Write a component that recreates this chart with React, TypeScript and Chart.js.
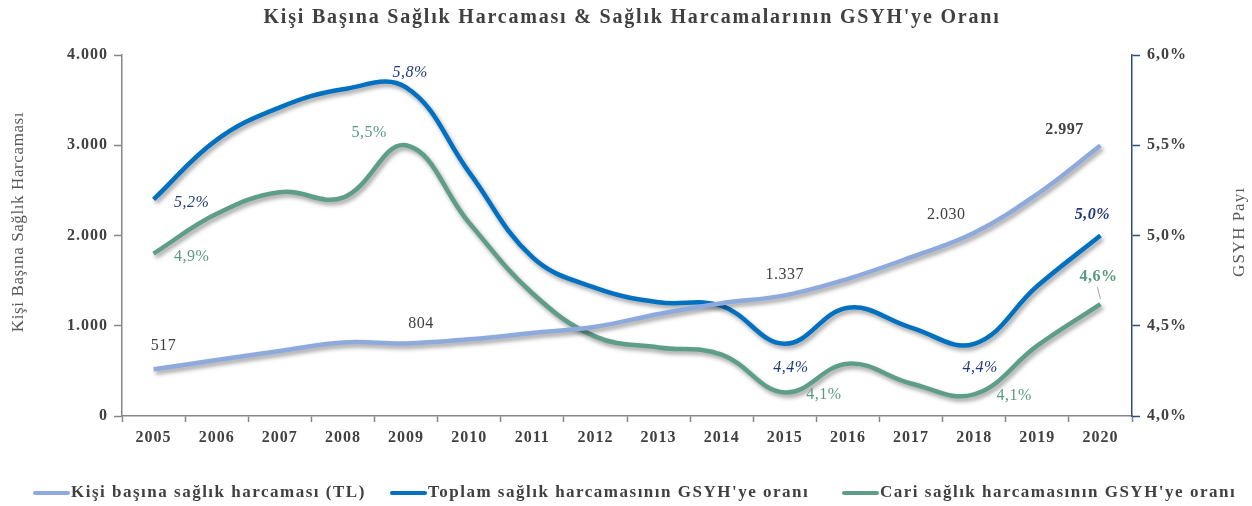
import React, { useEffect, useRef } from "react";
import { Chart, registerables } from "chart.js";

Chart.register(...registerables);

// ---------- data ----------
const years = ["2005", "2006", "2007", "2008", "2009", "2010", "2011", "2012", "2013", "2014", "2015", "2016", "2017", "2018", "2019", "2020"];
const perCapita = [517, 620, 720, 815, 804, 850, 920, 990, 1130, 1250, 1337, 1520, 1760, 2030, 2460, 2997];
const totalRatio = [5.2, 5.53, 5.71, 5.81, 5.82, 5.35, 4.88, 4.71, 4.63, 4.61, 4.4, 4.6, 4.49, 4.4, 4.72, 5.0];
const currentRatio = [4.9, 5.12, 5.24, 5.21, 5.5, 5.07, 4.68, 4.44, 4.38, 4.34, 4.13, 4.29, 4.18, 4.12, 4.39, 4.62];
const leftTickLabels = ["0", "1.000", "2.000", "3.000", "4.000"];
const rightTickLabels = ["4,0%", "4,5%", "5,0%", "5,5%", "6,0%"];
const seriesNames = [
  "Kişi başına sağlık harcaması (TL)",
  "Toplam sağlık harcamasının GSYH'ye oranı",
  "Cari sağlık harcamasının GSYH'ye oranı",
];
const titleText = "Kişi Başına Sağlık Harcaması & Sağlık Harcamalarının GSYH'ye Oranı";
const leftAxisTitle = "Kişi Başına Sağlık Harcaması";
const rightAxisTitle = "GSYH Payı";

// value labels: point index, text
const perCapitaLabels = [
  { i: 0, t: "517" },
  { i: 4, t: "804" },
  { i: 10, t: "1.337" },
  { i: 13, t: "2.030" },
  { i: 15, t: "2.997" },
];
const totalLabels = [
  { i: 0, t: "5,2%" },
  { i: 4, t: "5,8%" },
  { i: 10, t: "4,4%" },
  { i: 13, t: "4,4%" },
  { i: 15, t: "5,0%" },
];
const currentLabels = [
  { i: 0, t: "4,9%" },
  { i: 4, t: "5,5%" },
  { i: 10, t: "4,1%" },
  { i: 13, t: "4,1%" },
  { i: 15, t: "4,6%" },
];

// ---------- styles ----------
const SERIF = "'Liberation Serif', 'Times New Roman', serif";
const LIGHT = "#8eaadc";
const BLUE = "#0070c0";
const GREEN = "#5e9e88";
const NAVY_TXT = "#1f3a7a";
const GREEN_TXT = "#5a9a80";
const DARK_TXT = "#404040";
const AXIS_GRAY = "#868686";
const AXIS_NAVY = "#2f4a7f";

// label placement (offsets in px from the point)
const labelStyle: Record<string, { dx: number; dy: number; bold?: boolean; italic?: boolean; leader?: boolean }[]> = {
  "0": [
    { dx: 10, dy: -24 },
    { dx: 15, dy: -20 },
    { dx: 0, dy: -21 },
    { dx: -28, dy: -18 },
    { dx: -36, dy: -16, bold: true },
  ],
  "1": [
    { dx: 38, dy: 3, italic: true },
    { dx: 4, dy: -15, italic: true },
    { dx: 6, dy: 24, italic: true },
    { dx: 6, dy: 24, italic: true },
    { dx: -8, dy: -21, italic: true, bold: true },
  ],
  "2": [
    { dx: 38, dy: 3 },
    { dx: -37, dy: -12 },
    { dx: 39, dy: 2 },
    { dx: 40, dy: 1 },
    { dx: -2, dy: -27, bold: true, leader: true },
  ],
};

const setSpacing = (ctx: any, v: string) => {
  if ("letterSpacing" in ctx) ctx.letterSpacing = v;
};

const shadowPlugin = {
  id: "lineShadow",
  beforeDraw(chart: any) {
    setSpacing(chart.ctx, "1px");
  },
  beforeDatasetDraw(chart: any) {
    const ctx = chart.ctx;
    ctx.save();
    ctx.shadowColor = "rgba(0,0,0,0.38)";
    ctx.shadowBlur = 4;
    ctx.shadowOffsetX = 2;
    ctx.shadowOffsetY = 3;
  },
  afterDatasetDraw(chart: any) {
    chart.ctx.restore();
  },
};

const decorPlugin = {
  id: "decor",
  afterDraw(chart: any) {
    const ctx: CanvasRenderingContext2D = chart.ctx;
    // title
    ctx.save();
    setSpacing(ctx, "1.8px");
    ctx.fillStyle = DARK_TXT;
    ctx.font = `bold 20px ${SERIF}`;
    ctx.textAlign = "center";
    ctx.textBaseline = "middle";
    ctx.fillText(titleText, 632, 18);
    ctx.restore();

    // axis titles
    ctx.save();
    setSpacing(ctx, "0.6px");
    ctx.fillStyle = "#595959";
    ctx.font = `17px ${SERIF}`;
    ctx.textAlign = "center";
    ctx.textBaseline = "middle";
    ctx.translate(19, 222);
    ctx.rotate(-Math.PI / 2);
    ctx.fillText(leftAxisTitle, 0, 0);
    ctx.restore();

    ctx.save();
    setSpacing(ctx, "1px");
    ctx.fillStyle = "#595959";
    ctx.font = `17px ${SERIF}`;
    ctx.textAlign = "center";
    ctx.textBaseline = "middle";
    ctx.translate(1240, 232);
    ctx.rotate(-Math.PI / 2);
    ctx.fillText(rightAxisTitle, 0, 0);
    ctx.restore();

    // value labels
    const groups = [
      { ds: 0, list: perCapitaLabels, color: DARK_TXT },
      { ds: 1, list: totalLabels, color: NAVY_TXT },
      { ds: 2, list: currentLabels, color: GREEN_TXT },
    ];
    groups.forEach((g) => {
      const meta = chart.getDatasetMeta(g.ds);
      g.list.forEach((lab, k) => {
        const st = labelStyle[String(g.ds)][k];
        const pt = meta.data[lab.i];
        if (!pt) return;
        const x = pt.x + st.dx;
        const y = pt.y + st.dy;
        ctx.save();
        setSpacing(ctx, "0.5px");
        ctx.fillStyle = g.color;
        ctx.font = `${st.italic ? "italic " : ""}${st.bold ? "bold " : ""}16px ${SERIF}`;
        ctx.textAlign = "center";
        ctx.textBaseline = "middle";
        ctx.fillText(lab.t, x, y);
        if (st.leader) {
          ctx.strokeStyle = "#a6a6a6";
          ctx.lineWidth = 1;
          ctx.beginPath();
          ctx.moveTo(x - 1, y + 10);
          ctx.lineTo(pt.x, pt.y - 5);
          ctx.stroke();
        }
        ctx.restore();
      });
    });

    // legend
    const colors = [LIGHT, BLUE, GREEN];
    const starts = [33, 390, 842];
    const ly = 493;
    seriesNames.forEach((name, i) => {
      const x0 = starts[i];
      ctx.save();
      ctx.strokeStyle = colors[i];
      ctx.lineWidth = 4;
      ctx.lineCap = "round";
      ctx.beginPath();
      ctx.moveTo(x0 + 2, ly);
      ctx.lineTo(x0 + 35, ly);
      ctx.stroke();
      setSpacing(ctx, "1.5px");
      ctx.fillStyle = DARK_TXT;
      ctx.font = `bold 17px ${SERIF}`;
      ctx.textAlign = "left";
      ctx.textBaseline = "middle";
      ctx.fillText(name, x0 + 38, ly);
      ctx.restore();
    });
  },
};

export default function App() {
  const ref = useRef<HTMLCanvasElement>(null);

  useEffect(() => {
    if (!ref.current) return;
    const tickFont = { family: SERIF, size: 16, weight: "bold" as const };
    const chart = new Chart(ref.current, {
      type: "line",
      data: {
        labels: years,
        datasets: [
          {
            label: seriesNames[0],
            data: perCapita,
            yAxisID: "y",
            borderColor: LIGHT,
            backgroundColor: LIGHT,
            borderWidth: 4.5,
            pointRadius: 0,
            tension: 0.4,
            fill: false,
          },
          {
            label: seriesNames[1],
            data: totalRatio,
            yAxisID: "y1",
            borderColor: BLUE,
            backgroundColor: BLUE,
            borderWidth: 4.5,
            pointRadius: 0,
            tension: 0.4,
            fill: false,
          },
          {
            label: seriesNames[2],
            data: currentRatio,
            yAxisID: "y1",
            borderColor: GREEN,
            backgroundColor: GREEN,
            borderWidth: 4.5,
            pointRadius: 0,
            tension: 0.4,
            fill: false,
          },
        ],
      },
      options: {
        animation: false,
        responsive: false,
        maintainAspectRatio: false,
        events: [],
        layout: { padding: { top: 55, left: 0, right: 0, bottom: 0 } },
        plugins: {
          legend: { display: false },
          tooltip: { enabled: false },
          title: { display: false },
        },
        scales: {
          x: {
            type: "category",
            offset: true,
            grid: {
              offset: true,
              drawOnChartArea: false,
              drawTicks: true,
              tickLength: 6,
              tickColor: AXIS_GRAY,
              tickWidth: 1.5,
            },
            border: { color: AXIS_GRAY, width: 1.5 },
            ticks: {
              font: tickFont,
              color: DARK_TXT,
              padding: 6,
              maxRotation: 0,
              autoSkip: false,
            },
            afterFit: (s: any) => {
              s.height = 90;
            },
          },
          y: {
            position: "left",
            min: 0,
            max: 4000,
            grid: {
              drawOnChartArea: false,
              tickLength: 8,
              tickColor: AXIS_GRAY,
              tickWidth: 1.5,
            },
            border: { color: AXIS_GRAY, width: 1.5 },
            ticks: {
              stepSize: 1000,
              font: tickFont,
              color: DARK_TXT,
              padding: 6,
              callback: (_v: any, i: number) => leftTickLabels[i],
            },
            afterFit: (s: any) => {
              s.width = 122;
            },
          },
          y1: {
            position: "right",
            min: 4,
            max: 6,
            grid: {
              drawOnChartArea: false,
              tickLength: 8,
              tickColor: AXIS_NAVY,
              tickWidth: 1.5,
            },
            border: { color: AXIS_NAVY, width: 1.5 },
            ticks: {
              stepSize: 0.5,
              font: tickFont,
              color: DARK_TXT,
              padding: 7,
              callback: (_v: any, i: number) => rightTickLabels[i],
            },
            afterFit: (s: any) => {
              s.width = 120;
            },
          },
        },
      },
      plugins: [shadowPlugin, decorPlugin],
    });
    return () => chart.destroy();
  }, []);

  return (
    <div style={{ position: "absolute", left: 0, top: 0, width: 1252, height: 506, background: "#ffffff" }}>
      <canvas ref={ref} width={1252} height={506} style={{ width: 1252, height: 506, display: "block" }} />
    </div>
  );
}
